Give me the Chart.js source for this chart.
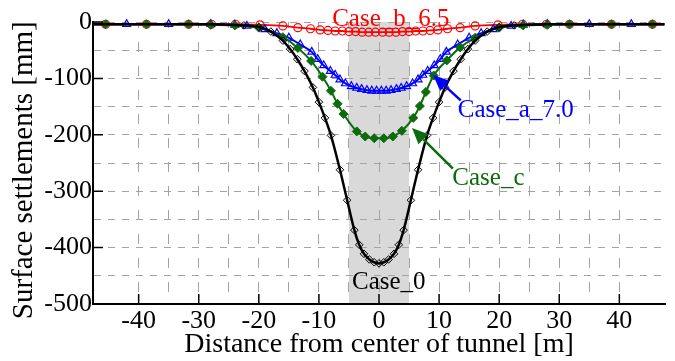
<!DOCTYPE html>
<html>
<head>
<meta charset="utf-8">
<script src="https://cdn.jsdelivr.net/npm/chart.js@4.4.0/dist/chart.umd.min.js"></script>
<style>
  html, body { margin: 0; padding: 0; background: #fff; }
  canvas { display: block; }
</style>
</head>
<body>
<canvas id="chart" width="675" height="361"></canvas>
<script>
/* ── surface settlement profiles across the tunnel axis ── */

// Case_0 (black, open diamonds)
var case0X = [-47.5, -44, -40, -36, -32, -28, -25, -22.5, -20, -18, -16, -14.8, -13.6, -12.4, -11, -10, -9, -8, -6.5, -5.3, -4.1, -3.3, -2.5, -1.6, -0.8,
  0, 0.8, 1.6, 2.5, 3.3, 4.1, 5.3, 6.5, 8, 9, 10, 11, 12.4, 13.6, 14.8, 16, 18, 20, 22.5, 25, 28, 32, 36, 40, 44, 47.5];
var case0Y = [-4, -4, -4, -4, -4, -4, -5, -6, -9, -17, -33, -48, -66, -87, -116, -142, -170, -201, -262, -316, -369, -395, -411, -421, -426,
  -428, -426, -421, -411, -395, -369, -316, -262, -201, -170, -142, -116, -87, -66, -48, -33, -17, -9, -6, -5, -4, -4, -4, -4, -4, -4];

// Case_c (green, filled diamonds)
var caseCX = [-47.5, -45.5, -38.7, -31.7, -28, -24, -20, -16, -13.5, -11.3, -9.4, -8, -6.9, -5.9, -3.7, -2.3, -0.8,
  0.8, 2.3, 3.8, 5.7, 6.8, 7.8, 9.1, 11.3, 13.5, 16, 20, 24, 28, 31.7, 38.7, 45.5, 47.5];
var caseCY = [-4, -4, -4, -4, -5, -6, -10, -27, -46, -69, -97, -122, -145, -163, -194, -203, -206,
  -206, -203, -193, -170, -149, -124, -95, -68, -45, -28, -10, -6, -5, -4, -4, -4, -4];

// Case_a_7.0 (blue, open triangles)
var caseAX = [-47.5, -42, -35, -28, -24, -22, -19, -17, -15, -13.1, -11.2, -10.2, -9.2, -8.1, -7.3, -6.5, -5.6, -4.6, -3.7, -2.9, -2.0, -1.2, -0.4,
  0.4, 1.2, 2.0, 2.9, 3.7, 4.6, 5.6, 6.5, 7.3, 8.1, 9.2, 10.2, 11.2, 13.1, 15, 17, 19, 22, 24, 28, 35, 42, 47.5];
var caseAY = [-4, -4, -4, -4, -5, -7, -13, -20, -28, -40, -53, -66, -77, -87, -94, -102, -109, -114, -117, -119, -121, -122, -122,
  -122, -122, -121, -119, -117, -114, -109, -102, -94, -87, -77, -66, -53, -40, -28, -20, -13, -7, -5, -4, -4, -4, -4];

// Case_b_6.5 (red, open circles)
var caseBX = [-47.5, -45.5, -38.7, -31.7, -27.9, -23.9, -19.8, -16, -13.5, -11.4, -9.8, -8.5, -7.3, -6.1, -5.0, -3.9, -2.8, -1.7, -0.6,
  0.6, 1.7, 2.8, 3.9, 5.0, 6.1, 7.3, 8.5, 9.8, 11.4, 13.5, 16, 19.8, 23.9, 27.9, 31.7, 38.7, 45.5, 47.5];
var caseBY = [-4, -4, -4, -4, -4, -4, -5, -7, -10, -12, -14, -15, -16, -16, -17, -17, -18, -18, -18,
  -18, -18, -18, -17, -17, -16, -16, -15, -14, -12, -10, -7, -5, -4, -4, -4, -4, -4, -4];

// tunnel footprint (shaded band) and labelled ticks
var bandX = [-5, 5];
var xTickLabels = [-40, -30, -20, -10, 0, 10, 20, 30, 40];
var yTickLabels = [0, -100, -200, -300, -400, -500];

/* ── looks ── */
var FONT = "'Liberation Serif', 'Times New Roman', serif";
var GRID = '#a3a3a3';

var notes = [
  { text: 'Case_b_6.5', color: '#ff0000', at: [-7.8, 5] },
  { text: 'Case_a_7.0', color: '#0000ff', at: [13.1, -156], arrow: [[13.6, -139], [9.0, -94]] },
  { text: 'Case_c', color: '#0c6b0c', at: [12.2, -277], arrow: [[12.3, -260], [5.5, -188]] },
  { text: 'Case_0', color: '#000000', at: [-4.5, -461] }
];

function pts(xs, ys) { return xs.map(function (x, i) { return { x: x, y: ys[i] }; }); }
function edgeless(r) { return function (c) { return c.raw && Math.abs(c.raw.x) > 47 ? 0 : r; }; }

/* ── plugins: band under the grid, inward ticks, labels + arrows ── */
var band = {
  id: 'band',
  beforeDraw: function (chart) {
    var a = chart.chartArea, sx = chart.scales.x, ctx = chart.ctx;
    var x0 = sx.getPixelForValue(bandX[0]), x1 = sx.getPixelForValue(bandX[1]);
    ctx.save();
    ctx.fillStyle = '#d9d9d9';
    ctx.fillRect(x0, a.top, x1 - x0, a.bottom - a.top);
    ctx.restore();
  }
};

var inwardTicks = {
  id: 'inwardTicks',
  afterDatasetsDraw: function (chart) {
    var a = chart.chartArea, sx = chart.scales.x, sy = chart.scales.y, ctx = chart.ctx;
    ctx.save();
    ctx.strokeStyle = '#000';
    ctx.lineWidth = 1.5;
    ctx.beginPath();
    xTickLabels.forEach(function (v) { var p = sx.getPixelForValue(v); ctx.moveTo(p, a.bottom); ctx.lineTo(p, a.bottom - 10); });
    yTickLabels.forEach(function (v) { var p = sy.getPixelForValue(v); ctx.moveTo(a.left, p); ctx.lineTo(a.left + 10, p); });
    ctx.stroke();
    ctx.restore();
  }
};

var labels = {
  id: 'labels',
  afterDatasetsDraw: function (chart) {
    var sx = chart.scales.x, sy = chart.scales.y, ctx = chart.ctx;
    ctx.save();
    notes.forEach(function (n) {
      if (n.arrow) {
        var fx = sx.getPixelForValue(n.arrow[0][0]), fy = sy.getPixelForValue(n.arrow[0][1]);
        var tx = sx.getPixelForValue(n.arrow[1][0]), ty = sy.getPixelForValue(n.arrow[1][1]);
        var ang = Math.atan2(ty - fy, tx - fx), L = 16, W = 7;
        var bx = tx - L * Math.cos(ang), by = ty - L * Math.sin(ang);
        ctx.strokeStyle = n.color; ctx.fillStyle = n.color; ctx.lineWidth = 2.5;
        ctx.beginPath(); ctx.moveTo(fx, fy); ctx.lineTo(bx, by); ctx.stroke();
        ctx.beginPath();
        ctx.moveTo(tx, ty);
        ctx.lineTo(bx + W * Math.sin(ang), by - W * Math.cos(ang));
        ctx.lineTo(bx - W * Math.sin(ang), by + W * Math.cos(ang));
        ctx.closePath(); ctx.fill();
      }
      ctx.fillStyle = n.color;
      ctx.font = '25px ' + FONT;
      ctx.textAlign = 'left';
      ctx.textBaseline = 'middle';
      ctx.fillText(n.text, sx.getPixelForValue(n.at[0]), sy.getPixelForValue(n.at[1]));
    });
    ctx.restore();
  }
};

/* ── chart ── */
new Chart(document.getElementById('chart'), {
  type: 'line',
  data: {
    datasets: [
      { label: 'Case_b_6.5', data: pts(caseBX, caseBY), borderColor: '#ff0000', borderWidth: 1.8,
        pointStyle: 'circle', pointRadius: edgeless(4), pointBorderWidth: 1.2, pointBorderColor: '#ff0000',
        pointBackgroundColor: 'rgba(0,0,0,0)', order: 3 },
      { label: 'Case_a_7.0', data: pts(caseAX, caseAY), borderColor: '#0000ff', borderWidth: 2,
        pointStyle: 'triangle', pointRadius: edgeless(4.5), pointBorderWidth: 1.2, pointBorderColor: '#0000ff',
        pointBackgroundColor: 'rgba(0,0,0,0)', order: 2 },
      { label: 'Case_c', data: pts(caseCX, caseCY), borderColor: '#0c6b0c', borderWidth: 2,
        pointStyle: 'rectRot', pointRadius: edgeless(4.5), pointBorderWidth: 1, pointBorderColor: '#0c6b0c',
        pointBackgroundColor: '#0c6b0c', order: 1 },
      { label: 'Case_0', data: pts(case0X, case0Y), borderColor: '#000000', borderWidth: 2.5,
        pointStyle: 'rectRot', pointBorderWidth: 1, pointBorderColor: '#000', pointBackgroundColor: 'rgba(0,0,0,0)',
        pointRadius: function (c) { return c.raw && Math.abs(c.raw.x) <= 22.5 ? 3.8 : 0; }, order: 0 }
    ]
  },
  options: {
    responsive: false,
    animation: false,
    events: [],
    clip: 8,
    cubicInterpolationMode: 'monotone',
    layout: { padding: { top: 22, right: 10, bottom: 0, left: 0 } },
    plugins: { legend: { display: false }, tooltip: { enabled: false } },
    scales: {
      x: {
        type: 'linear', min: -47.6, max: 47.6,
        afterFit: function (s) { s.height = 57; },
        border: { display: true, color: '#000', width: 2, dash: [10, 14], dashOffset: 4 },
        grid: {
          drawTicks: false, lineWidth: 1,
          color: function (c) { var v = c.tick ? c.tick.value : 0; return (v % 5 === 0 && Math.abs(v) < 47) ? GRID : 'rgba(0,0,0,0)'; }
        },
        ticks: {
          stepSize: 5, autoSkip: false, maxRotation: 0, padding: 2, color: '#000',
          font: { family: FONT, size: 26 },
          callback: function (v) { return xTickLabels.indexOf(v) >= 0 ? String(v) : ''; }
        },
        title: { display: true, text: 'Distance from center of tunnel [m]', color: '#000',
          font: { family: FONT, size: 28 }, padding: { top: 0, bottom: 0 } }
      },
      y: {
        type: 'linear', min: -500, max: 0,
        afterFit: function (s) { s.width = 93; },
        border: { display: true, color: '#000', width: 2, dash: [7, 7] },
        grid: {
          drawTicks: false, lineWidth: 1,
          color: function (c) { var v = c.tick ? c.tick.value : 0; return v > -500 ? GRID : 'rgba(0,0,0,0)'; }
        },
        ticks: {
          stepSize: 50, autoSkip: false, padding: 1, color: '#000',
          font: { family: FONT, size: 26 },
          callback: function (v) { return yTickLabels.indexOf(v) >= 0 ? String(v) : ''; }
        },
        title: { display: true, text: 'Surface settlements [mm]  ', color: '#000',
          font: { family: FONT, size: 29 }, padding: { top: 7, bottom: 0 } }
      }
    }
  },
  plugins: [band, inwardTicks, labels]
});
</script>
</body>
</html>
